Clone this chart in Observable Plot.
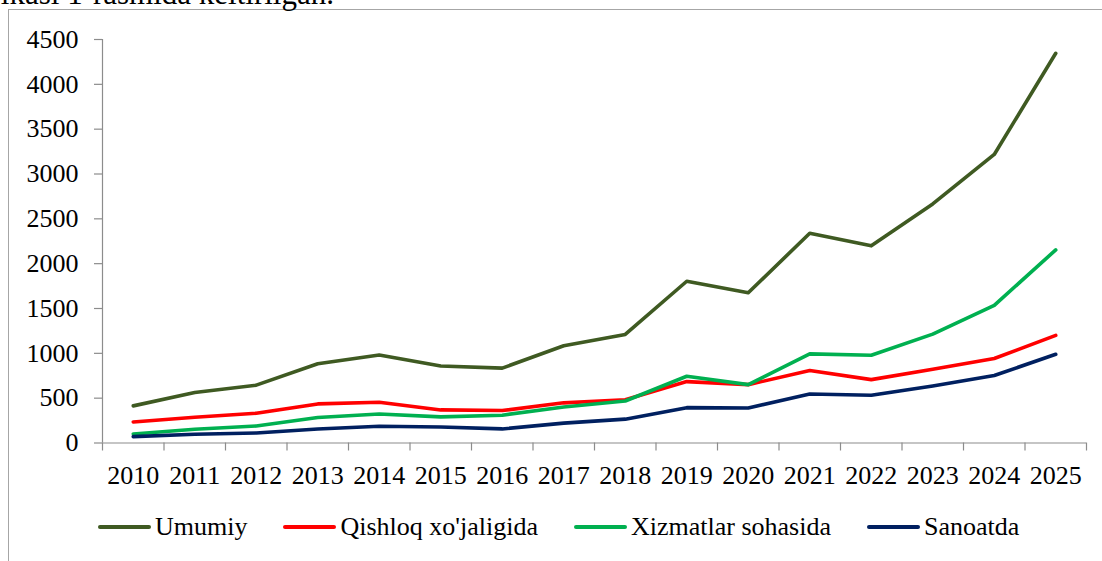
<!DOCTYPE html>
<html>
<head>
<meta charset="utf-8">
<script src="https://cdn.jsdelivr.net/npm/d3@7"></script>
<script src="https://cdn.jsdelivr.net/npm/@observablehq/plot@0.6"></script>
<style>
  html, body { margin: 0; padding: 0; background: #fff; }
  #wrap { position: relative; width: 1102px; height: 561px; overflow: hidden;
          font-family: "Liberation Serif", "Times New Roman", serif; color: #000; }
  #frame { position: absolute; left: 8px; top: 9px; width: 1200px; height: 700px;
           border: 1px solid #a6a6a6; box-sizing: border-box; }
  #toptext { position: absolute; right: 768px; top: -22px; font-size: 31px; line-height: 31px; white-space: nowrap; }
  #chart { position: absolute; left: 0; top: 0; }
  #legend { position: absolute; left: 98px; top: 512px; height: 30px; display: flex; align-items: center;
            font-size: 26px; line-height: 30px; white-space: nowrap; }
  .item { display: flex; align-items: center; margin-right: 36px; }
  .sw { display: inline-block; width: 53px; height: 4px; border-radius: 2px; margin-right: 4px; }
</style>
</head>
<body>
<div id="wrap">
  <div id="frame"></div>
  <div id="toptext">ikasi 1-rasmida keltirilgan.</div>
  <div id="chart"></div>
  <div id="legend"></div>
</div>
<script>
const years = [2010, 2011, 2012, 2013, 2014, 2015, 2016, 2017, 2018, 2019, 2020, 2021, 2022, 2023, 2024, 2025];
const umumiy  = [414, 563, 645, 884, 981, 858, 835, 1085, 1211, 1804, 1675, 2339, 2199, 2666, 3218, 4346];
const qishloq = [235, 287, 332, 436, 455, 369, 362, 448, 483, 685, 651, 808, 707, 822, 942, 1200];
const xizmat  = [101, 153, 190, 284, 324, 291, 310, 402, 468, 744, 651, 994, 979, 1214, 1535, 2154];
const sanoat  = [71, 97, 112, 157, 187, 179, 157, 222, 266, 394, 390, 546, 532, 636, 752, 990];
const seriesNames = ["Umumiy", "Qishloq xo'jaligida", "Xizmatlar sohasida", "Sanoatda"];
const seriesColors = ["#3F5A22", "#FF0000", "#00B050", "#002060"];
const yTicks = [0, 500, 1000, 1500, 2000, 2500, 3000, 3500, 4000, 4500];

const seriesValues = [umumiy, qishloq, xizmat, sanoat];
const data = seriesNames.flatMap((name, i) =>
  years.map((yr, j) => ({ year: yr, value: seriesValues[i][j], series: name })));
const boundaries = years.map(y => y - 0.5).concat([years[years.length - 1] + 0.5]);

const axisColor = "#8c8c8c";
const chart = Plot.plot({
  width: 1102,
  height: 500,
  marginLeft: 102,
  marginRight: 16,
  marginTop: 39,
  marginBottom: 57.5,
  style: { fontFamily: '"Liberation Serif", "Times New Roman", serif', fontSize: "26px", background: "transparent", color: "#000", overflow: "visible" },
  x: { type: "linear", domain: [boundaries[0], boundaries[boundaries.length - 1]] },
  y: { domain: [0, 4500] },
  color: { domain: seriesNames, range: seriesColors },
  marks: [
    Plot.ruleY([0], { stroke: axisColor, strokeWidth: 1.2 }),
    Plot.ruleX([boundaries[0]], { stroke: axisColor, strokeWidth: 1.2 }),
    Plot.axisY({ ticks: yTicks, tickSize: 8, tickPadding: 16, stroke: axisColor, strokeWidth: 1.2, tickFormat: d => String(d), label: null, fontSize: 26 }),
    Plot.axisX({ ticks: boundaries, tickSize: 8, stroke: axisColor, strokeWidth: 1.2, tickFormat: () => "", label: null }),
    Plot.axisX({ ticks: years, tickSize: 0, tickPadding: 23, tickFormat: d => String(d), label: null, fontSize: 26 }),
    Plot.lineY(data, { x: "year", y: "value", z: "series", stroke: "series", strokeWidth: 3.6, strokeLinejoin: "round", strokeLinecap: "round" })
  ]
});
document.getElementById("chart").appendChild(chart);

const legend = document.getElementById("legend");
seriesNames.forEach((name, i) => {
  const item = document.createElement("div");
  item.className = "item";
  const sw = document.createElement("span");
  sw.className = "sw";
  sw.style.background = seriesColors[i];
  const label = document.createElement("span");
  label.textContent = name;
  item.appendChild(sw);
  item.appendChild(label);
  legend.appendChild(item);
});
</script>
</body>
</html>
